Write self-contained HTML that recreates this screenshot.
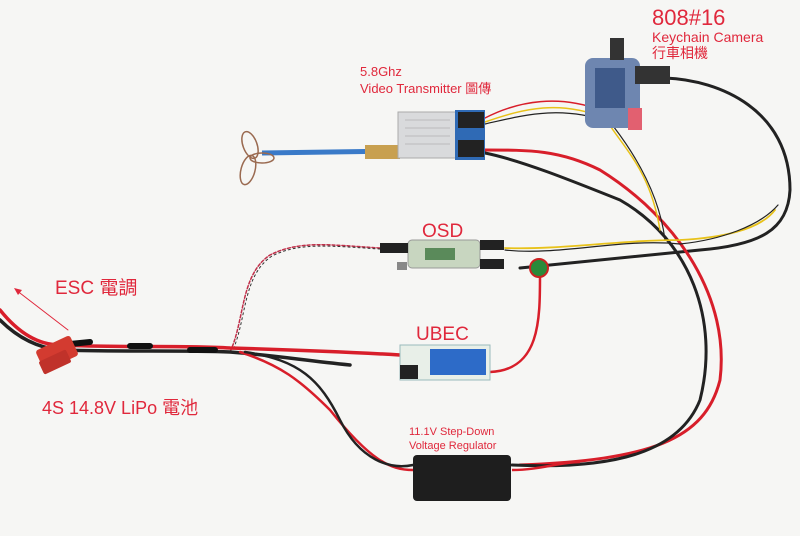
<!DOCTYPE html>
<html><head><meta charset="utf-8"><style>
html,body{margin:0;padding:0;background:#f6f6f4;}
svg{display:block}
text{font-family:"Liberation Sans","Noto Sans CJK TC",sans-serif;fill:#e0283c;}
</style></head><body>
<svg width="800" height="536" viewBox="0 0 800 536" xmlns="http://www.w3.org/2000/svg">
<rect width="800" height="536" fill="#f6f6f4"/>
<g fill="none" stroke-linecap="round">
<!-- camera USB cable -->
<path d="M665 78 C720 80 790 110 790 190 C788 230 760 245 700 250 L520 268" stroke="#222" stroke-width="3"/>
<!-- VTX power to long loop -->
<path d="M485 150 C530 150 560 150 600 170 C680 220 730 300 720 380 C705 440 650 460 520 465" stroke="#d81e2a" stroke-width="3"/>
<path d="M485 153 C520 160 570 180 620 200 C690 240 720 320 700 400 C680 450 620 470 512 465" stroke="#222" stroke-width="3"/>
<!-- vtx to camera signal -->
<path d="M485 118 C520 100 560 95 600 110" stroke="#d81e2a" stroke-width="1.5"/>
<path d="M485 122 C525 108 560 100 605 118 C625 150 650 170 660 230" stroke="#e8c21a" stroke-width="1.5"/>
<path d="M485 124 C525 115 560 105 610 122 C640 160 660 200 665 240" stroke="#222" stroke-width="1.2"/>
<!-- OSD signal right -->
<path d="M505 248 C560 250 620 240 680 240 C720 238 760 230 775 210" stroke="#e8c21a" stroke-width="1.8"/>
<path d="M505 250 C560 256 620 238 680 244 C720 240 760 226 778 205" stroke="#222" stroke-width="1.2"/>
<!-- OSD left twisted -->
<path d="M380 248 C330 245 300 240 270 255 C240 275 245 320 230 352" stroke="#c0304a" stroke-width="1.5" stroke-dasharray="3 2"/>
<path d="M380 249 C330 246 300 242 272 256 C242 276 247 320 232 352" stroke="#333" stroke-width="1" stroke-dasharray="2 3"/>
<!-- ferrite to UBEC -->
<path d="M540 275 C540 320 540 370 490 372" stroke="#d81e2a" stroke-width="2.5"/>
<!-- battery harness -->
<path d="M0 310 C20 335 40 345 60 345 C120 348 180 345 230 348 C300 350 350 352 400 355" stroke="#d81e2a" stroke-width="3.5"/>
<path d="M0 320 C20 340 40 348 60 350 C120 352 180 350 230 352 C280 356 300 360 350 365" stroke="#222" stroke-width="3.5"/>
<path d="M70 344 L90 342 M130 346 L150 346 M190 350 L215 350" stroke="#111" stroke-width="6"/>
<!-- to regulator -->
<path d="M240 352 C280 365 300 380 330 410 C370 460 390 470 413 470" stroke="#d81e2a" stroke-width="2.5"/>
<path d="M245 352 C300 360 320 380 340 420 C360 460 390 470 413 465" stroke="#222" stroke-width="2.5"/>
<!-- arrow -->
<path d="M68 330 L16 290" stroke="#e0283c" stroke-width="1"/>
</g>
<polygon points="14,288 22,290 18,295" fill="#e0283c"/>
<!-- Deans connector -->
<rect x="38" y="342" width="38" height="22" rx="3" fill="#d33b30" transform="rotate(-25 57 353)"/>
<rect x="40" y="355" width="30" height="14" rx="2" fill="#c0322a" transform="rotate(-25 55 362)"/>
<!-- antenna -->
<path d="M262 153 L400 151" stroke="#3a7ac8" stroke-width="5"/>
<rect x="365" y="145" width="35" height="14" fill="#c8a050"/>
<g fill="none" stroke="#9a6a50" stroke-width="1.5">
<ellipse cx="250" cy="145" rx="7" ry="14" transform="rotate(-20 250 145)"/>
<ellipse cx="248" cy="170" rx="7" ry="15" transform="rotate(15 248 170)"/>
<ellipse cx="262" cy="158" rx="12" ry="5"/>
</g>
<!-- VTX -->
<rect x="398" y="112" width="58" height="46" fill="#d9dadc" stroke="#aaa"/>
<g stroke="#bbb"><line x1="405" y1="120" x2="450" y2="120"/><line x1="405" y1="128" x2="450" y2="128"/><line x1="405" y1="136" x2="450" y2="136"/><line x1="405" y1="144" x2="450" y2="144"/></g>
<rect x="455" y="110" width="30" height="50" fill="#2f6ab5"/>
<rect x="458" y="112" width="26" height="16" fill="#222"/>
<rect x="458" y="140" width="26" height="17" fill="#222"/>
<!-- Camera -->
<rect x="585" y="58" width="55" height="70" rx="8" fill="#6e86b0"/>
<rect x="595" y="68" width="30" height="40" fill="#3f5a8a"/>
<rect x="610" y="38" width="14" height="22" fill="#333"/>
<rect x="635" y="66" width="35" height="18" fill="#333"/>
<rect x="628" y="108" width="14" height="22" fill="#e26070"/>
<!-- OSD -->
<rect x="408" y="240" width="72" height="28" rx="4" fill="#c8d6c0" stroke="#999"/>
<rect x="425" y="248" width="30" height="12" fill="#5a8a5a"/>
<rect x="380" y="243" width="28" height="10" fill="#222"/>
<rect x="480" y="240" width="24" height="10" fill="#222"/>
<rect x="480" y="259" width="24" height="10" fill="#222"/>
<rect x="397" y="262" width="10" height="8" fill="#888"/>
<!-- ferrite -->
<circle cx="539" cy="268" r="9" fill="#2a8a3a" stroke="#c22" stroke-width="2"/>
<!-- UBEC -->
<rect x="400" y="345" width="90" height="35" fill="#e8efe8" stroke="#9bb"/>
<rect x="430" y="349" width="56" height="26" fill="#2d6bc8"/>
<rect x="400" y="365" width="18" height="14" fill="#222"/>
<!-- Regulator -->
<rect x="413" y="455" width="98" height="46" rx="4" fill="#1e1e1e"/>
<path d="M512 470 C540 470 560 462 580 462" stroke="#d81e2a" stroke-width="2.5" fill="none"/>
<!-- labels -->
<text x="652" y="25" font-size="22">808#16</text>
<text x="652" y="42" font-size="14">Keychain Camera</text>
<text x="652" y="58" font-size="14">行車相機</text>
<text x="360" y="76" font-size="13">5.8Ghz</text>
<text x="360" y="93" font-size="13">Video Transmitter 圖傳</text>
<text x="422" y="237" font-size="19">OSD</text>
<text x="55" y="294" font-size="19">ESC 電調</text>
<text x="416" y="340" font-size="19">UBEC</text>
<text x="42" y="414" font-size="18">4S 14.8V LiPo 電池</text>
<text x="409" y="435" font-size="11">11.1V Step-Down</text>
<text x="409" y="449" font-size="11">Voltage Regulator</text>
</svg>
</body></html>
